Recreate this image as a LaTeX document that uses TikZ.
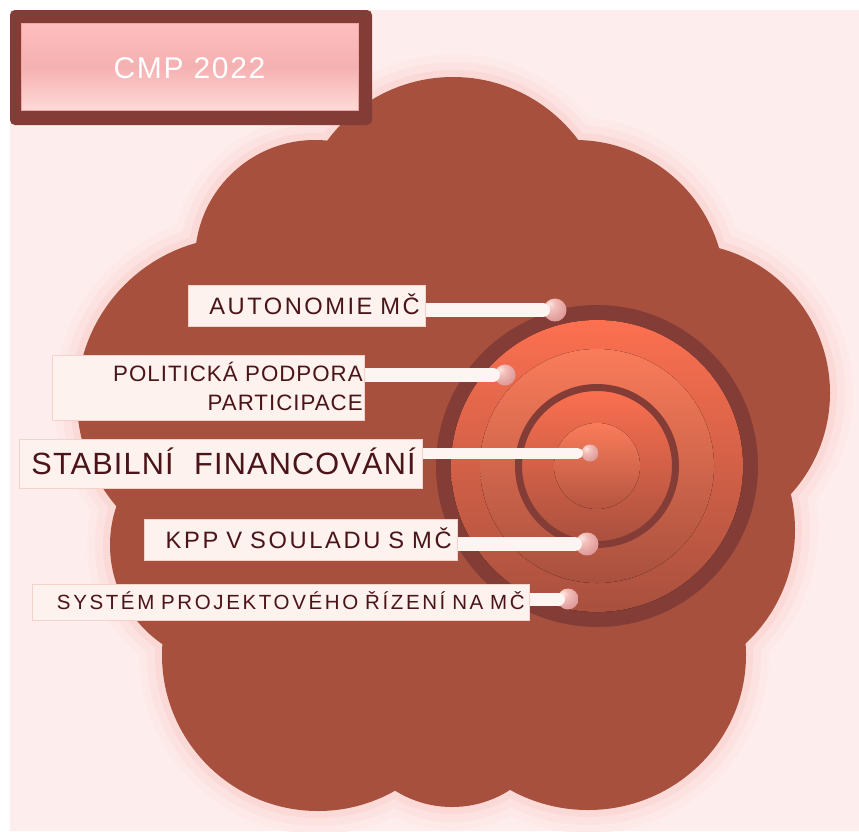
\documentclass[tikz,border=0pt]{standalone}
\usepackage{fontspec}
\setmainfont{Liberation Sans}
\usetikzlibrary{calc}
\definecolor{bgpink}{HTML}{FDEEED}
\definecolor{glowA}{HTML}{FDE9E8}
\definecolor{glowB}{HTML}{FCE2E1}
\definecolor{glowC}{HTML}{FBD9D7}
\definecolor{cloudc}{HTML}{A8503E}
\definecolor{darkc}{HTML}{843C37}
\definecolor{orangec}{HTML}{FC7050}
\definecolor{orangeb}{HTML}{FA7C5A}
\definecolor{labfill}{HTML}{FDF2EE}
\definecolor{labline}{HTML}{F3D2CB}
\definecolor{textc}{HTML}{4B1419}
\definecolor{barc}{HTML}{FEF5F2}
\definecolor{pbA}{HTML}{FCE6E2}
\definecolor{pbB}{HTML}{F3BDB8}
\definecolor{pbC}{HTML}{D89090}
\definecolor{pbD}{HTML}{B86666}
\definecolor{cmptop}{HTML}{FFBDBD}
\definecolor{cmpmid}{HTML}{F5B1B1}
\definecolor{cmpbot}{HTML}{FDDAD8}
\definecolor{cmpline}{HTML}{F2A4A4}
\pgfdeclareradialshading{pinkball}{\pgfpoint{-12bp}{14bp}}{color(0bp)=(pbA); color(12bp)=(pbB); color(40bp)=(pbC); color(64bp)=(pbD); color(100bp)=(pbD)}
\pgfdeclarelayer{bg}
\pgfdeclarelayer{mid}
\pgfsetlayers{bg,mid,main}
\tikzset{
  labbox/.style={rectangle, fill=labfill, draw=labline, line width=0.6pt,
    text=textc, align=right, inner ysep=0pt, anchor=north east},
  ballst/.style={circle, inner sep=0pt, shading=pinkball},
  barst/.style={draw=barc, line cap=round},
}
\begin{document}
\begin{tikzpicture}[x=1pt,y=1pt]
\useasboundingbox (0,0) rectangle (859,-831);
\begin{pgfonlayer}{bg}
\fill[white] (0,0) rectangle (859,-831);
\fill[bgpink] (10,-10) rectangle (859,-831);
% glow around cloud
\foreach \w/\gc in {46/glowA, 30/glowB, 14/glowC}{
  \foreach \cx/\cy/\r in {453/233/156, 575/290/150, 680/393/150, 640/530/155,
      452/700/107, 318/655/156, 230/545/120, 240/400/163, 315/260/120}{
    \draw[line width=\w pt, draw=\gc] (\cx,-\cy) circle[radius=\r pt];
  }
  \draw[line width=\w pt, draw=\gc] (588,-655) ellipse[x radius=158pt, y radius=155pt];
}
% cloud
\foreach \cx/\cy/\r in {453/233/156, 575/290/150, 680/393/150, 640/530/155,
    452/700/107, 318/655/156, 230/545/120, 240/400/163, 315/260/120}{
  \fill[cloudc] (\cx,-\cy) circle[radius=\r pt];
}
\fill[cloudc] (588,-655) ellipse[x radius=158pt, y radius=155pt];
\fill[cloudc] (453,-233) -- (575,-290) -- (680,-393) -- (640,-530) -- (588,-655)
  -- (452,-700) -- (318,-655) -- (230,-545) -- (240,-400) -- (315,-260) -- cycle;
% target
\coordinate (tc) at (597,-466);
\fill[darkc] (tc) circle[radius=161pt];
\fill[top color=orangec, bottom color=cloudc] (tc) circle[radius=146pt];
\fill[top color=orangeb, bottom color=cloudc] (tc) circle[radius=117pt];
\fill[top color=orangec, bottom color=cloudc] (tc) circle[radius=78pt];
\draw[darkc, line width=7pt] (tc) circle[radius=78.5pt];
\fill[top color=orangeb, bottom color=cloudc!85!orangec] (tc) circle[radius=43pt];
\end{pgfonlayer}

% title box
\node[rectangle, fill=darkc, rounded corners=5pt, minimum width=362pt,
  minimum height=115pt, inner sep=0pt] (cmpo) at (191,-67.5) {};
\node[rectangle, top color=cmptop, bottom color=cmpbot, middle color=cmpmid,
  draw=cmpline, line width=0.8pt, minimum width=337pt, minimum height=87pt,
  inner sep=0pt, text=white, text height=22pt, text depth=0pt,
  font={\fontsize{30}{34}\selectfont\addfontfeatures{LetterSpace=5.5}}]
  (cmp) at (189.5,-67) {CMP 2022};

% labels
\node[labbox, text width=225pt, inner xsep=6pt, minimum height=41pt,
  text height=17pt, text depth=0pt,
  font={\fontsize{23.7}{28}\selectfont\addfontfeatures{LetterSpace=10.5}}]
  (t1) at (426,-285) {AUTONOMIE MČ};
\node[labbox, text width=308pt, inner xsep=2pt, minimum height=65pt,
  text height=16pt, text depth=29pt,
  font={\fontsize{22.3}{29}\selectfont\addfontfeatures{LetterSpace=4.5}}]
  (t2) at (365,-355) {POLITICKÁ PODPORA\\PARTICIPACE};
\node[labbox, text width=389pt, inner xsep=7pt, minimum height=49pt,
  text height=22pt, text depth=0pt,
  font={\fontsize{30.7}{35}\selectfont\addfontfeatures{LetterSpace=3.8}}]
  (t3) at (423,-439) {STABILNÍ\ \ FINANCOVÁNÍ};
\node[labbox, text width=301pt, inner xsep=6pt, minimum height=41pt,
  text height=17pt, text depth=0pt,
  font={\fontsize{23.7}{28}\selectfont\addfontfeatures{LetterSpace=11.2}}]
  (t4) at (458,-519) {KPP V SOULADU S MČ};
\node[labbox, text width=487pt, inner xsep=5pt, minimum height=36pt,
  text height=14.5pt, text depth=0pt,
  font={\fontsize{20.5}{24}\selectfont\addfontfeatures{LetterSpace=12.8}}]
  (t5) at (530,-584) {SYSTÉM PROJEKTOVÉHO ŘÍZENÍ NA MČ};

% connectors
\begin{pgfonlayer}{mid}
\node[ballst, minimum size=23pt] (k1) at (555,-310) {};
\node[ballst, minimum size=21pt] (k2) at (505,-375) {};
\node[ballst, minimum size=17pt] (k3) at (590,-453) {};
\node[ballst, minimum size=23pt] (k4) at (587,-544) {};
\node[ballst, minimum size=21pt] (k5) at (568,-599) {};
\draw[barst, line width=14pt] (k1 -| t1.east) -- ([xshift=-12pt]k1.center);
\draw[barst, line width=14pt] (k2 -| t2.east) -- ([xshift=-12pt]k2.center);
\draw[barst, line width=11pt] (k3 -| t3.east) -- ([xshift=-12.5pt]k3.center);
\draw[barst, line width=14pt] (k4 -| t4.east) -- ([xshift=-12pt]k4.center);
\draw[barst, line width=13pt] (k5 -| t5.east) -- ([xshift=-9.5pt]k5.center);
\end{pgfonlayer}
\end{tikzpicture}
\end{document}
